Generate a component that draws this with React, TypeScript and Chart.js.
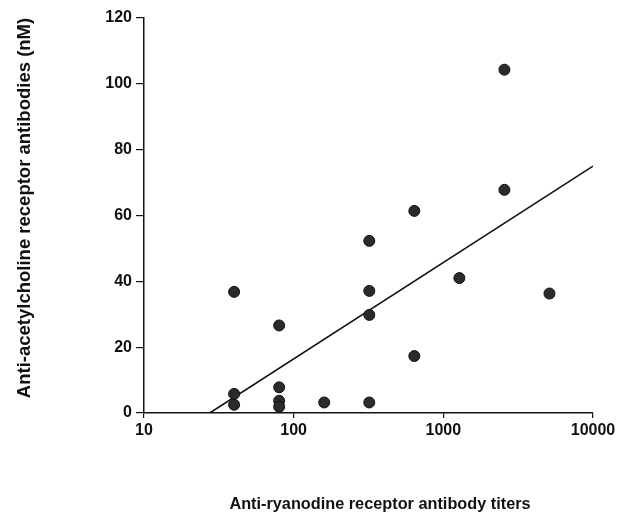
import React, { useEffect, useRef } from "react";
import { Chart, registerables } from "chart.js";

Chart.register(...registerables);

// Anti-ryanodine receptor antibody titers (x) vs anti-AChR antibodies in nM (y)
const titerValues = [40, 40, 40, 80, 80, 80, 80, 160, 320, 320, 320, 320, 640, 640, 1280, 2560, 2560, 5120];
const achrValues = [36.8, 5.8, 2.5, 26.6, 7.8, 3.7, 1.9, 3.2, 52.3, 37.1, 29.8, 3.2, 61.4, 17.3, 41.0, 104.3, 67.8, 36.3];

// Regression line end points
const fitX = [27.5, 10000];
const fitY = [0, 75.0];

const xTickValues = [10, 100, 1000, 10000];
const yTickValues = [0, 20, 40, 60, 80, 100, 120];

const xTitle = "Anti-ryanodine receptor antibody titers";
const yTitle = "Anti-acetylcholine receptor antibodies (nM)";

const FONT = "'Liberation Sans', Arial, Helvetica, sans-serif";

export default function App() {
  const ref = useRef<HTMLCanvasElement | null>(null);

  useEffect(() => {
    document.body.style.margin = "0";
    const canvas = ref.current;
    if (!canvas) return;

    const titlePlugin = {
      id: "titles",
      afterDraw(chart: any) {
        const ctx = chart.ctx;
        ctx.save();
        ctx.fillStyle = "#111";
        ctx.textAlign = "center";
        ctx.textBaseline = "middle";
        ctx.font = `bold 16.3px ${FONT}`;
        ctx.fillText(xTitle, 380, 505);
        ctx.translate(25, 208);
        ctx.rotate(-Math.PI / 2);
        ctx.font = `bold 18.5px ${FONT}`;
        ctx.fillText(yTitle, 0, 0);
        ctx.restore();
      },
    };

    const chart = new Chart(canvas, {
      type: "scatter",
      data: {
        datasets: [
          {
            data: titerValues.map((x, i) => ({ x, y: achrValues[i] })),
            pointRadius: 5.5,
            pointBackgroundColor: "#2b2b2b",
            pointBorderColor: "#111",
            pointBorderWidth: 1,
            showLine: false,
          },
          {
            data: fitX.map((x, i) => ({ x, y: fitY[i] })),
            showLine: true,
            pointRadius: 0,
            borderColor: "#111",
            borderWidth: 1.6,
          },
        ],
      },
      options: {
        animation: false,
        responsive: false,
        events: [],
        layout: { padding: { left: 84, right: 40, top: 18, bottom: 0 } },
        plugins: {
          legend: { display: false },
          tooltip: { enabled: false },
        },
        scales: {
          x: {
            type: "logarithmic",
            min: 10,
            max: 10000,
            afterBuildTicks: (scale: any) => {
              scale.ticks = xTickValues.map((v) => ({ value: v }));
            },
            afterFit: (scale: any) => {
              scale.height = 106;
            },
            grid: {
              drawOnChartArea: false,
              drawTicks: true,
              tickLength: 5,
              color: "#111",
              lineWidth: 1.2,
            },
            border: { display: true, color: "#111", width: 1.5 },
            ticks: {
              autoSkip: false,
              maxRotation: 0,
              padding: 3,
              color: "#111",
              font: { family: FONT, size: 16, weight: "bold" },
              callback: (v: any) => String(v),
            },
          },
          y: {
            type: "linear",
            min: 0,
            max: 120,
            afterBuildTicks: (scale: any) => {
              scale.ticks = yTickValues.map((v) => ({ value: v }));
            },
            afterFit: (scale: any) => {
              scale.width = 60;
            },
            grid: {
              drawOnChartArea: false,
              drawTicks: true,
              tickLength: 8,
              color: "#111",
              lineWidth: 1.2,
            },
            border: { display: true, color: "#111", width: 1.5 },
            ticks: {
              padding: 4,
              color: "#111",
              font: { family: FONT, size: 16, weight: "bold" },
              callback: (v: any) => String(v),
            },
          },
        },
      },
      plugins: [titlePlugin],
    });

    return () => chart.destroy();
  }, []);

  return <canvas ref={ref} width={633} height={519} style={{ display: "block" }} />;
}
